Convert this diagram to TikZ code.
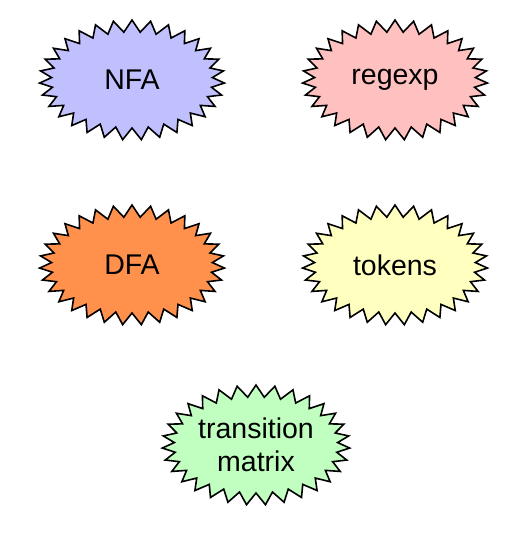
\documentclass[tikz,border=0pt]{standalone}
\usepackage{fontspec}
\setmainfont{Liberation Sans}
\usepackage{tikz}
\usetikzlibrary{shapes.symbols}
\definecolor{nfablue}{RGB}{192, 192, 255}
\definecolor{regpink}{RGB}{255, 192, 192}
\definecolor{dfaorange}{RGB}{255, 145, 77}
\definecolor{tokyellow}{RGB}{255, 255, 192}
\definecolor{matgreen}{RGB}{192, 255, 192}

\begin{document}
\begin{tikzpicture}[x=1pt, y=-1pt,
    burst/.style={
        starburst, starburst points=31, starburst point height=12pt,
        random starburst=0,
        draw=black, line width=1.6pt,
        minimum width=185pt, minimum height=120pt, inner sep=0pt,
        align=center, font=\fontsize{28.5}{33}\selectfont
    },
]
\useasboundingbox (0,0) rectangle (516,542);

% --- Coordenadas ---
\def\xl{132}
\def\xr{395}
\def\xm{256}
\def\ytop{80}
\def\ymid{265}
\def\ybot{445}

% --- Nodos ---
\node[burst, fill=nfablue]   (nfa)    at (\xl, \ytop) {NFA};
\node[burst, fill=regpink]   (regexp) at (\xr, \ytop) {regexp};
\node[burst, fill=dfaorange] (dfa)    at (\xl, \ymid) {DFA};
\node[burst, fill=tokyellow] (tokens) at (\xr, \ymid) {tokens};
\node[burst, fill=matgreen]  (matrix) at (\xm, \ybot) {transition\\matrix};

\end{tikzpicture}
\end{document}
